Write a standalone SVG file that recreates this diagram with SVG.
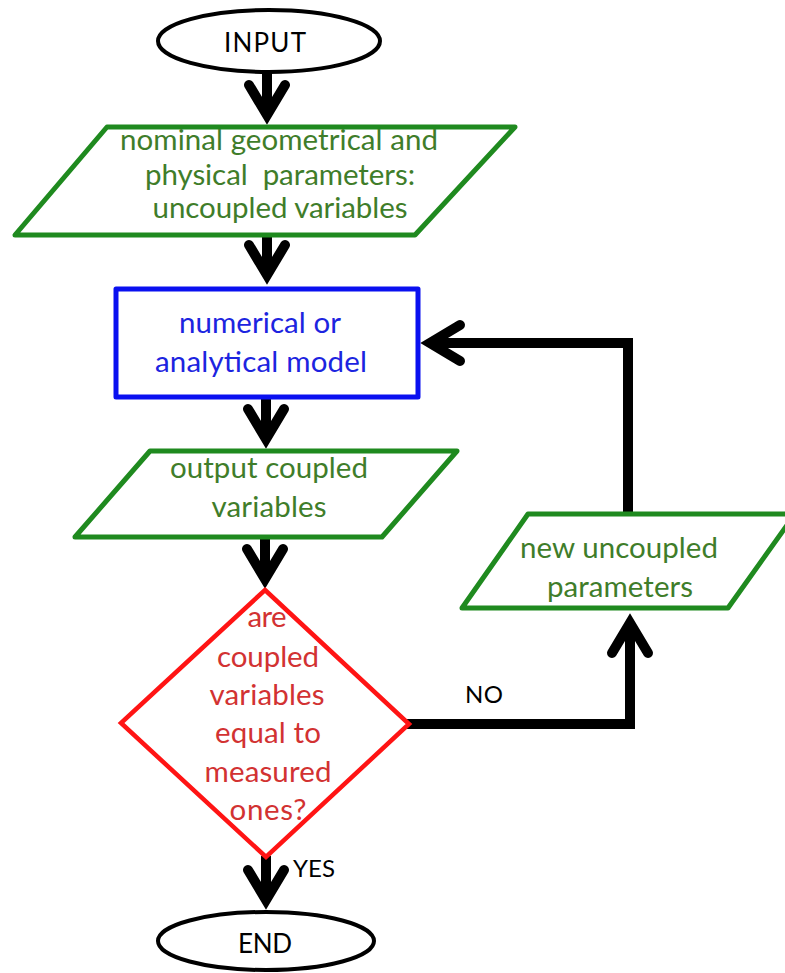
<svg xmlns="http://www.w3.org/2000/svg" width="785" height="973" viewBox="0 0 785 973">
  <style>
    .term { fill: #fff; stroke: #000; stroke-width: 4; }
    .io { fill: #fff; stroke: #1f8a1f; stroke-width: 5; stroke-linejoin: round; }
    .proc { fill: #fff; stroke: #0a10f0; stroke-width: 5; stroke-linejoin: round; }
    .dec { fill: #fff; stroke: #ff1414; stroke-width: 4.5; }
    text { font-family: Lato, "Liberation Sans", sans-serif; text-anchor: middle; white-space: pre; }
    .t-black { fill: #000; font-size: 26px; }
    .t-green { fill: #3f7d2a; font-size: 29.5px; }
    .t-blue { fill: #1c24e0; font-size: 29.5px; }
    .t-red { fill: #d23232; font-size: 29.5px; }
    .t-lbl { fill: #000; font-size: 24px; text-anchor: start; }
    .flow { fill: none; stroke: #000; stroke-width: 10; stroke-linejoin: miter; marker-end: url(#chev); }
  </style>
  <defs>
    <marker id="chev" markerUnits="userSpaceOnUse" orient="auto" overflow="visible" markerWidth="1" markerHeight="1" refX="0" refY="0">
      <path d="M -30 -18 L 0 0 L -30 18" fill="none" stroke="#000" stroke-width="10" stroke-linecap="round" stroke-linejoin="miter"/>
    </marker>
  </defs>

  <rect width="785" height="973" fill="#fff"/>

  <!-- connectors -->
  <g id="connectors">
    <path class="flow" d="M 267 70 L 267 115"/>
    <path class="flow" d="M 267 236 L 267 275"/>
    <path class="flow" d="M 266 398 L 266 439"/>
    <path class="flow" d="M 265 538 L 265 579"/>
    <path class="flow" d="M 266 856 L 266 900"/>
    <path class="flow" d="M 407 724 L 630 724 L 630 623"/>
    <path class="flow" d="M 628 514 L 628 343 L 430 343"/>
  </g>

  <g id="input">
    <ellipse class="term" cx="269" cy="41" rx="111" ry="31"/>
    <text class="t-black" x="265" y="52" textLength="82">INPUT</text>
  </g>

  <g id="nominal-params">
    <polygon class="io" points="107,127 515,127 415,235 15,235"/>
    <text class="t-green" x="279" y="150" textLength="318">nominal geometrical and</text>
    <text class="t-green" x="280" y="185" textLength="270">physical  parameters:</text>
    <text class="t-green" x="280" y="218" textLength="255">uncoupled variables</text>
  </g>

  <g id="model">
    <rect class="proc" x="116" y="289" width="302" height="108"/>
    <text class="t-blue" x="260" y="333" textLength="162">numerical or</text>
    <text class="t-blue" x="261" y="372" textLength="212">analytical model</text>
  </g>

  <g id="output">
    <polygon class="io" points="150,451 457,451 382,537 75,537"/>
    <text class="t-green" x="269" y="478" textLength="198">output coupled</text>
    <text class="t-green" x="269" y="517" textLength="115">variables</text>
  </g>

  <g id="check">
    <polygon class="dec" points="265,590 409,724 266,857 121,723"/>
    <text class="t-red" x="267" y="627" textLength="39">are</text>
    <text class="t-red" x="268" y="667" textLength="102">coupled</text>
    <text class="t-red" x="267" y="705" textLength="115">variables</text>
    <text class="t-red" x="268" y="743" textLength="106">equal to</text>
    <text class="t-red" x="268" y="782" textLength="127">measured</text>
    <text class="t-red" x="268" y="820" textLength="77">ones?</text>
  </g>

  <g id="new-params">
    <polygon class="io" points="528,514 795,514 728,608 462,608"/>
    <text class="t-green" x="619" y="558" textLength="198">new uncoupled</text>
    <text class="t-green" x="620" y="597" textLength="146">parameters</text>
  </g>

  <g id="labels">
    <text class="t-lbl" x="465" y="703" textLength="38">NO</text>
    <text class="t-lbl" x="293" y="877" textLength="42">YES</text>
  </g>

  <g id="end">
    <ellipse class="term" cx="266" cy="941" rx="108" ry="29"/>
    <text class="t-black" x="265" y="953" textLength="54">END</text>
  </g>
</svg>
